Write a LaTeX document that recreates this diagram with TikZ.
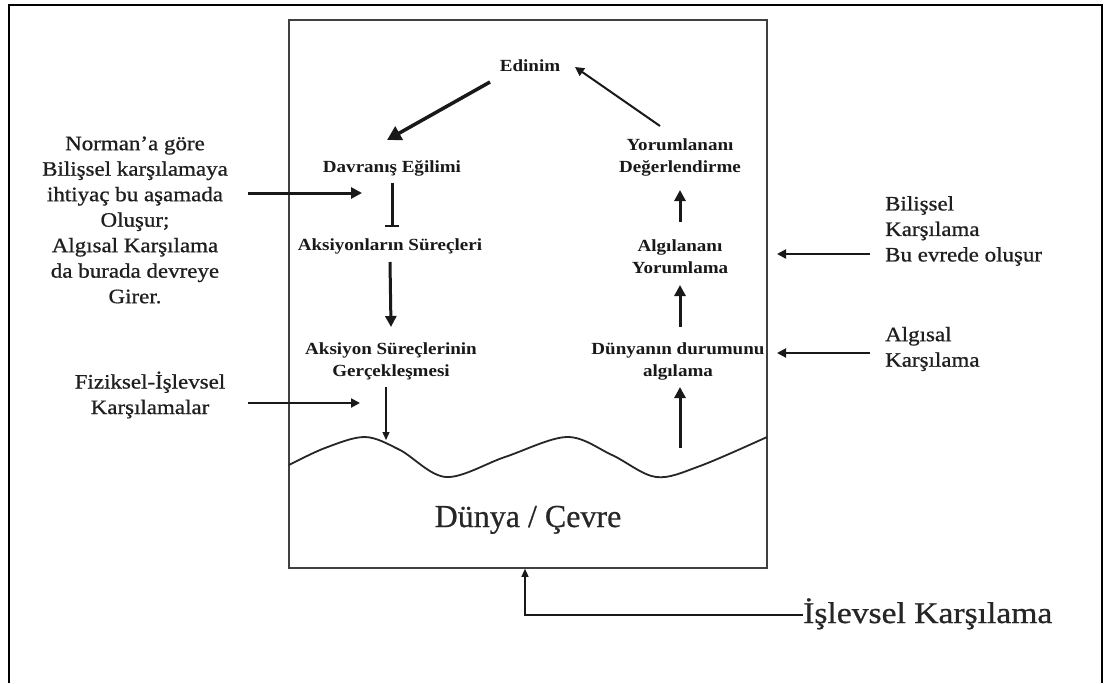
\documentclass[tikz,border=0pt]{standalone}
\usepackage{fontspec}
\setmainfont{Liberation Serif}
\newfontfamily\garfont{Liberation Serif}[FakeStretch=1.12]
\newfontfamily\notefont{Liberation Serif}[FakeStretch=1.12, FakeBold=0.8]
\newfontfamily\titlefont{Liberation Serif}[FakeBold=0.6]
\usetikzlibrary{arrows.meta}
\begin{document}
\begin{tikzpicture}[x=1pt,y=-1pt,
  stage/.style={font=\garfont\bfseries\fontsize{17}{22}\selectfont, align=center, inner sep=0pt, text=black!90},
  note/.style={font=\notefont\fontsize{20.5}{25.5}\selectfont, inner sep=0pt, text=black!88},
  heavy/.style={line width=3pt, draw=black!90, -{Triangle[length=11pt,width=11pt]}},
  medium/.style={line width=2pt, draw=black!90, -{Triangle[length=9pt,width=9pt]}},
  light/.style={line width=1.3pt, draw=black!90, -{Triangle[length=8pt,width=7pt]}}]
\useasboundingbox (0,0) rectangle (1105,683);
\fill[white] (0,0) rectangle (1105,683);

% page frame, open at the bottom
\draw[line width=2.5pt] (9,683) -- (9,5) -- (1102,5) -- (1102,683);

% the environment box
\node[draw=black!75, line width=1.6pt, minimum width=478pt, minimum height=548pt, inner sep=0pt] (env) at (528,294) {};

% surface of the world
\draw[line width=1.8pt, black!85] plot[smooth, tension=0.55] coordinates
  {(289,465) (325,448) (365,437) (400,450) (446,477) (505,457) (567,437) (612,455) (656,477) (700,466) (767,437)};
\coordinate (hit) at (386,440);
\coordinate (rise) at (680,448);

\node[font=\titlefont\fontsize{32}{36}\selectfont, text=black!85, anchor=base, inner sep=0pt] (world) at (528,527) {Dünya / Çevre};

% stages of the cycle
\node[stage] (edinim) at (530,66) {Edinim};
\node[stage] (dav) at (392,168) {Davranış Eğilimi};
\node[stage] (yor) at (680,157) {Yorumlananı\\Değerlendirme};
\node[stage] (aks) at (390,246) {Aksiyonların Süreçleri};
\node[stage] (alg) at (680,257) {Algılananı\\Yorumlama};
\node[stage] (ger) at (391,361) {Aksiyon Süreçlerinin\\Gerçekleşmesi};
\node[stage] (dun) at (678,361) {Dünyanın durumunu\\algılama};

% cycle connectors
\draw[line width=3.5pt, draw=black!90, -{Triangle[length=14pt,width=15pt]}]
  ([shift={(-40,16)}]edinim.center) -- ([shift={(-5,-28)}]dav.center);
\draw[medium] ([shift={(-20,-31)}]yor.center) -- ([shift={(45,1)}]edinim.center);
\draw[line width=3pt, draw=black!90, -{Bar[width=14pt,line width=2.5pt]}]
  ([shift={(0,15)}]dav.center) -- ([shift={(2,-19)}]aks.center);
\draw[heavy] ([shift={(0,16)}]aks.center) -- ([shift={(0,-34)}]ger.center);
\draw[light] ([shift={(-5,26)}]ger.center) -- (hit);
\draw[heavy] (rise) -- ([shift={(2,26)}]dun.center);
\draw[heavy] ([shift={(2,-34)}]dun.center) -- ([shift={(0,28)}]alg.center);
\draw[heavy] ([shift={(0,-35)}]alg.center) -- ([shift={(0,33)}]yor.center);

% annotations outside the box
\node[note, align=center] (norman) at (135,220)
  {Norman’a göre\\Bilişsel karşılamaya\\ihtiyaç bu aşamada\\Oluşur;\\Algısal Karşılama\\da burada devreye\\Girer.};
\node[note, align=center] (fiz) at (150,395) {Fiziksel-İşlevsel\\Karşılamalar};
\node[note, align=left, anchor=west] (bil) at (885,231) {Bilişsel\\Karşılama\\Bu evrede oluşur};
\node[note, align=left, anchor=west] (als) at (885,349) {Algısal\\Karşılama};
\node[font=\notefont\fontsize{30}{34}\selectfont, text=black!85, anchor=base west, inner sep=0pt] (isl) at (803,623) {İşlevsel Karşılama};

\draw[heavy] ([shift={(113,-27)}]norman.center) -- ([shift={(-30,25)}]dav.center);
\draw[medium] ([shift={(98,8)}]fiz.center) -- ([shift={(-31,42)}]ger.center);
\draw[medium] ([shift={(-15,23)}]bil.west) -- ([shift={(97,-3)}]alg.center);
\draw[medium] ([shift={(-15,4)}]als.west) -- ([shift={(99,-8)}]dun.center);
\draw[light] ([shift={(0,-8)}]isl.base west) -| ([shift={(-3,0)}]env.south);
\end{tikzpicture}
\end{document}
